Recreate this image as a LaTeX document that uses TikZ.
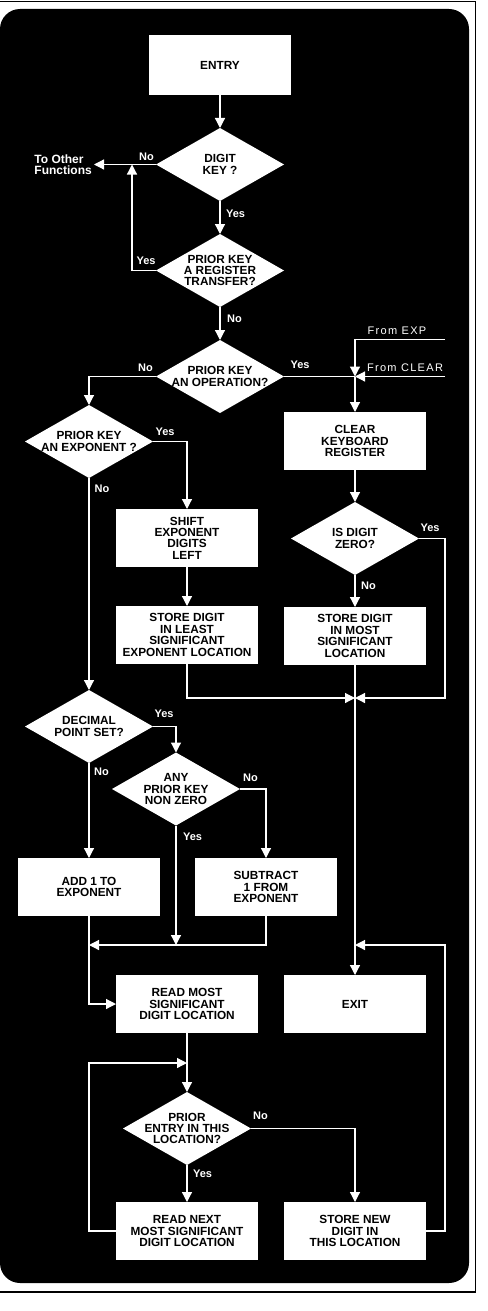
\documentclass[tikz,border=0pt]{standalone}
\usepackage{fontspec}
\setmainfont{Liberation Sans}
\newfontfamily\spacedfont[LetterSpace=12]{Liberation Sans}
\usepackage{xcolor}
\usepackage{tikz}
\usetikzlibrary{
  shapes.geometric,
  arrows.meta,
  positioning,
  calc
}
\definecolor{PanelBlack}{RGB}{0,0,0}
\definecolor{BoxWhite}{RGB}{255,255,255}
\tikzset{
  %%── flow chart boxes ──────────────────────────────────────
  proc/.style = {
    rectangle, fill = BoxWhite, text = PanelBlack,
    minimum width = 142pt, minimum height = 58pt,
    inner sep = 0pt, outer sep = 0pt,
    align = center, font = \bfseries\fontsize{11.8}{11.4}\selectfont
  },
  deci/.style = {
    diamond, fill = BoxWhite, text = PanelBlack, aspect = 1.75,
    minimum width = 128pt, minimum height = 73pt,
    inner xsep = -18pt, inner ysep = 0pt, outer sep = 0pt,
    align = center, font = \bfseries\fontsize{11.8}{11.4}\selectfont
  },
  %%── labels on the black panel ─────────────────────────────
  yn/.style   = {text = BoxWhite, inner sep = 0pt, font = \bfseries\fontsize{11}{12}\selectfont},
  src/.style  = {text = BoxWhite, inner sep = 0pt, font = \spacedfont\fontsize{11}{12}\selectfont},
  side/.style = {text = BoxWhite, inner sep = 2pt, align = left,
                 font = \bfseries\fontsize{12}{10.5}\selectfont},
  %%── connectors ────────────────────────────────────────────
  arr/.style  = {-{Triangle[width=10pt,length=10pt]}, line width = 1.2pt, color = BoxWhite},
  wire/.style = {line width = 1.2pt, color = BoxWhite},
}

\begin{document}
\begin{tikzpicture}[x=1pt, y=-1pt, node distance = 33pt and 26pt]

  \useasboundingbox (0,0) rectangle (487,1311);

  %% ── panel and frame ─────────────────────────────────────
  \fill[PanelBlack, rounded corners = 20pt] (0,9) rectangle (469,1283);
  \draw[PanelBlack, line width = 1.5pt] (0,1.5) -- (475.5,1.5) -- (475.5,1292) -- (0,1292);

  %% ── top spine: entry and the first three tests ──────────
  \node[proc, minimum height = 60pt] (entry) at (220,65) {ENTRY};
  \node[deci, below=of entry] (digit) {DIGIT\\KEY ?};
  \node[deci, below=of digit] (regx)  {PRIOR KEY\\A REGISTER\\TRANSFER?};
  \node[deci, below=of regx]  (oper)  {PRIOR KEY\\AN OPERATION?};
  \node[side, left=62pt of digit] (tof) {To Other\\Functions};

  %% ── right column: clear and store ───────────────────────
  \node[proc, at={(355,441)}]        (clear)  {CLEAR\\KEYBOARD\\REGISTER};
  \node[deci, below=32pt of clear]   (isz)    {IS DIGIT\\ZERO?};
  \node[proc, below=32pt of isz]     (stmost) {STORE DIGIT\\IN MOST\\SIGNIFICANT\\LOCATION};

  %% ── exponent branch ─────────────────────────────────────
  \node[deci, at={(89,441.5)}]       (expon)   {PRIOR KEY\\AN EXPONENT ?};
  \node[proc, at={(187,538)}]        (shift)   {SHIFT\\EXPONENT\\DIGITS\\LEFT};
  \node[proc, below=39pt of shift]   (stleast) {STORE DIGIT\\IN LEAST\\SIGNIFICANT\\EXPONENT LOCATION};

  %% ── decimal point branch ────────────────────────────────
  \node[deci, below=212pt of expon]  (decim) {DECIMAL\\POINT SET?};
  \node[deci, at={(176,789)}]        (anyp)  {ANY\\PRIOR KEY\\NON ZERO};
  \node[proc, below=95pt of decim]   (add1)  {ADD 1 TO\\EXPONENT};
  \node[proc, right=35pt of add1]    (sub)   {SUBTRACT\\1 FROM\\EXPONENT};

  %% ── bottom loop ─────────────────────────────────────────
  \node[proc, at={(187,1004)}]       (readmost) {READ MOST\\SIGNIFICANT\\DIGIT LOCATION};
  \node[proc, right=of readmost]     (exit)     {EXIT};
  \node[deci, below=59pt of readmost] (pentry)  {PRIOR\\ENTRY IN THIS\\LOCATION?};
  \node[proc, below=37pt of pentry]  (readnext) {READ NEXT\\MOST SIGNIFICANT\\DIGIT LOCATION};
  \node[proc, right=of readnext]     (stnew)    {STORE NEW\\DIGIT IN\\THIS LOCATION};

  %% ── junction points ─────────────────────────────────────
  \coordinate (j1) at ($(digit.west)+(-24,0)$);
  \coordinate (j2) at (clear.north |- oper.east);
  \coordinate (fexp) at ($(j2)+(90,-37)$);
  \coordinate (fclr) at ($(j2)+(90,0)$);
  \coordinate (j3) at ($(stmost.south)+(0,33)$);
  \coordinate (rail2) at (j3 -| fexp);
  \coordinate (j4) at ($(add1.south)+(0,29)$);
  \coordinate (j5) at (exit.north |- j4);
  \coordinate (rail) at (j5 -| fexp);
  \coordinate (j6) at ($(readmost.south)+(0,30)$);
  \coordinate (lp) at (j6 -| add1.south);

  %% ── arrows ──────────────────────────────────────────────
  \draw[arr] (entry.south) -- (digit.north);
  \draw[arr] (digit.west) -- (tof.east);
  \draw[arr] (digit.south) -- (regx.north);
  \draw[arr] (regx.west) -| (j1);
  \draw[arr] (regx.south) -- (oper.north);
  \draw[arr] (oper.west) -| (expon.north);
  \draw[wire] (oper.east) -- (j2);
  \draw[arr] (fexp) -| (j2);
  \draw[arr] (fclr) -- (j2);
  \draw[arr] (j2) -- (clear.north);
  \draw[arr] (clear.south) -- (isz.north);
  \draw[arr] (isz.south) -- (stmost.north);
  \draw[arr] (isz.east) -| (rail2) -- (j3);
  \draw[arr] (expon.east) -| (shift.north);
  \draw[arr] (shift.south) -- (stleast.north);
  \draw[arr] (stleast.south) |- (j3);
  \draw[arr] (stmost.south) -- (exit.north);
  \draw[arr] (expon.south) -- (decim.north);
  \draw[arr] (decim.east) -| (anyp.north);
  \draw[arr] (decim.south) -- (add1.north);
  \draw[arr] (anyp.east) -| (sub.north);
  \draw[arr] (anyp.south) -- (anyp.south |- j4);
  \draw[arr] (sub.south) |- (j4);
  \draw[arr] (add1.south) |- (readmost.west);
  \draw[arr] (stnew.east) -| (rail) -- (j5);
  \draw[arr] (readmost.south) -- (pentry.north);
  \draw[arr] (pentry.south) -- (readnext.north);
  \draw[arr] (pentry.east) -| (stnew.north);
  \draw[arr] (readnext.west) -| (lp) -- (j6);

  %% ── yes / no labels ─────────────────────────────────────
  \node[yn] (nDigitNo)  at (146.5,157)  {No};
  \node[yn] (nDigitYes) at (235.5,214)  {Yes};
  \node[yn] (nRegYes)   at (146,261)    {Yes};
  \node[yn] (nRegNo)    at (234.5,319)  {No};
  \node[yn] (nOpNo)     at (145.5,367.5) {No};
  \node[yn] (nOpYes)    at (300,365)    {Yes};
  \node[yn] (nExpYes)   at (165,431.5)  {Yes};
  \node[yn] (nExpNo)    at (102,488.5)  {No};
  \node[yn] (nZeroYes)  at (430,527.5)  {Yes};
  \node[yn] (nZeroNo)   at (368.5,586)  {No};
  \node[yn] (nDecYes)   at (164,714)    {Yes};
  \node[yn] (nDecNo)    at (101.5,772)  {No};
  \node[yn] (nAnyNo)    at (250.5,777.5) {No};
  \node[yn] (nAnyYes)   at (192.5,837)  {Yes};
  \node[yn] (nEntNo)    at (260.5,1116) {No};
  \node[yn] (nEntYes)   at (202.5,1173.5) {Yes};
  \node[src] (sExp) at (397,331)   {From EXP};
  \node[src] (sClr) at (405,367.5) {From CLEAR};

\end{tikzpicture}
\end{document}
